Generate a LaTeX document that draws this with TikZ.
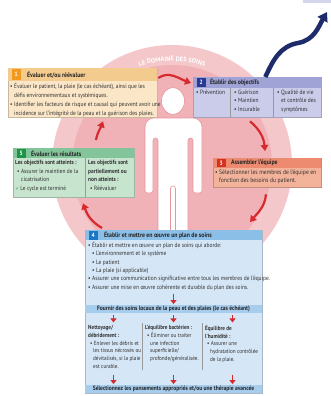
\documentclass[tikz,border=0pt]{standalone}
\usepackage{fontspec}
\setmainfont{PT Sans}[FakeStretch=0.88]
\newfontfamily\arcfont{PT Sans}
\newfontfamily\symfont{DejaVu Sans}
\usetikzlibrary{arrows.meta, positioning, calc, shadows, decorations.text}
\definecolor{pinkring}{HTML}{F4C7CA}
\definecolor{pinkdisc}{HTML}{F0B2B7}
\definecolor{pinkline}{HTML}{E6959C}
\definecolor{arrred}{HTML}{D62A2F}
\definecolor{navy}{HTML}{1E2C6B}
\definecolor{lavbar}{HTML}{D6D5EE}
\definecolor{txtgray}{HTML}{333333}
\definecolor{orbody}{HTML}{FBE6C8}
\definecolor{orhead}{HTML}{F3CB8E}
\definecolor{ornum}{HTML}{F29A1F}
\definecolor{lvbody}{HTML}{CACCEA}
\definecolor{lvhead}{HTML}{9FA3D6}
\definecolor{lvnum}{HTML}{283A93}
\definecolor{rdbody}{HTML}{F3B29A}
\definecolor{rdhead}{HTML}{EC8B70}
\definecolor{rdnum}{HTML}{D8301F}
\definecolor{gnbody}{HTML}{C7E4CE}
\definecolor{gnhead}{HTML}{84C49A}
\definecolor{gnnum}{HTML}{1E9546}
\definecolor{blbody}{HTML}{D5E6F6}
\definecolor{blhead}{HTML}{8CBFE8}
\definecolor{blnum}{HTML}{1C78C6}
\definecolor{blband}{HTML}{A6CCEE}
\newcommand\bodyfont{\fontsize{6.2}{8.3}\selectfont}

\begin{document}
\begin{tikzpicture}[x=1pt, y=1pt,
  every node/.style={font=\bodyfont, text=txtgray},
  stepbox/.style={rectangle, anchor=north west, inner sep=0, fill=#1, draw=#1!80!black, line width=0.3, drop shadow={shadow xshift=0.8pt, shadow yshift=-0.8pt, opacity=0.22}},
  headbar/.style 2 args={rectangle, anchor=north west, inner sep=0, fill=#1, minimum height=#2},
  numsq/.style={rectangle, inner sep=0, fill=#1, minimum width=9, minimum height=9, text=white, font=\bfseries\fontsize{6.2}{7}\selectfont},
  headtxt/.style={inner sep=0, font=\bfseries\fontsize{6.6}{7}\selectfont, text=black!85},
  bodytxt/.style={inner sep=0, anchor=north west, align=left},
  coltxt/.style={bodytxt, font=\fontsize{5.9}{7.8}\selectfont},
  bandbar/.style={rectangle, inner sep=0, fill=blband, minimum height=8.5, font=\bfseries\fontsize{6.3}{7}\selectfont, text=black!85},
  redarr/.style={draw=arrred, line width=2.2, -{Triangle[length=6pt, width=7.5pt]}},
  smallarr/.style={draw=arrred, line width=1.6, -{Triangle[length=4pt, width=6pt]}},
  sepline/.style={draw=black!40, line width=0.4},
  figure/.style={fill=white, draw=pinkline, line width=0.6},
]
\useasboundingbox (0,0) rectangle (331,-396);
\fill[white] (0,0) rectangle (331,-396);

% care domain disc with the patient
\coordinate (cc) at (172,-165);
\fill[pinkring] (cc) circle[radius=120];
\fill[pinkdisc] (cc) circle[radius=100];
\path[decorate, decoration={text along path, text align=center, text color=white,
  text={|\arcfont\bfseries\fontsize{6.4}{7}\selectfont|LE DOMAINE DES SOINS}}]
  ($(cc)+(150:104)$) arc[start angle=150, end angle=30, radius=104];
\draw[figure] (173,-101) ellipse[x radius=11.5, y radius=13.5];
\draw[figure] (145,-160) [rounded corners=9] -- (145,-118) -- (202,-118) -- (202,-160)
  [rounded corners=2.5] -- (202,-193) -- (193,-193) -- (193,-138) -- (188,-138) -- (188,-245)
  -- (158,-245) -- (158,-138) -- (153,-138) -- (153,-193) -- (145,-193) -- cycle;
\draw[figure, rounded corners=2.5] (170.5,-245) |- (175.5,-186) -- (175.5,-245);

% goal bar and navy arrow
\node[fill=lavbar, inner sep=0, minimum width=28, minimum height=3, anchor=north east] (goalbar) at (331,0) {};
\coordinate (bend) at (298,-43);
\coordinate (navytip) at (327,-12);

% 1 evaluate
\node[stepbox=orbody, minimum width=149, minimum height=49] (box1) at (8,-68) {};
\node[headbar={orhead}{13}, minimum width=149] (hd1) at (box1.north west) {};
\node[numsq=ornum, minimum height=11] (n1) [right=3.5pt of hd1.west] {1};
\node[headtxt] [right=6pt of n1] {Évaluer et/ou réévaluer};
\node[bodytxt, font=\fontsize{6.2}{9}\selectfont] (body1) at (10,-83) {%
• Évaluer le patient, la plaie (le cas échéant), ainsi que les\\
\hspace*{4pt}défis environnementaux et systémiques.\\
• Identifier les facteurs de risque et causal qui peuvent avoir une\\
\hspace*{4pt}incidence sur l'intégrité de la peau et la guérison des plaies.};

% 2 goals
\node[stepbox=lvbody, minimum width=128, minimum height=40] (box2) at (193,-77) {};
\node[headbar={lvhead}{11}, minimum width=128] (hd2) at (box2.north west) {};
\node[numsq=lvnum] (n2) [right=3.5pt of hd2.west] {2};
\node[headtxt] [right=4pt of n2] {Établir des objectifs};
\draw[sepline] (230,-88) -- (230,-117);
\draw[sepline] (273,-88) -- (273,-117);
\node[bodytxt] (g1) at (196,-90) {• Prévention};
\node[bodytxt] (g2) at (234,-90) {• Guérison\\• Maintien\\• Incurable};
\node[bodytxt] (g3) at (277,-90) {• Qualité de vie\\\hspace*{4pt}et contrôle des\\\hspace*{4pt}symptômes};

% 3 team
\node[stepbox=rdbody, minimum width=108, minimum height=29] (box3) at (213,-158) {};
\node[headbar={rdhead}{9.5}, minimum width=108] (hd3) at (box3.north west) {};
\node[numsq=rdnum, minimum height=8.5] (n3) [right=3.5pt of hd3.west] {3};
\node[headtxt] [right=5pt of n3] {Assembler l'équipe};
\node[bodytxt, font=\fontsize{6.4}{8.5}\selectfont] (body3) at (215,-169.5) {%
• Sélectionner les membres de l'équipe en\\
\hspace*{4pt}fonction des besoins du patient.};

% 5 results
\node[stepbox=gnbody, minimum width=121, minimum height=49] (box5) at (13,-148) {};
\node[headbar={gnhead}{10}, minimum width=121] (hd5) at (box5.north west) {};
\node[numsq=gnnum] (n5) [right=3.5pt of hd5.west] {5};
\node[headtxt] [right=5pt of n5] {Évaluer les résultats};
\draw[sepline] (85,-158) -- (85,-197);
\node[bodytxt, font=\fontsize{6.1}{8.7}\selectfont] (r1) at (15,-160) {%
\textbf{Les objectifs sont atteints :}\\
\hspace*{2pt}• Assurer le maintien de la\\
\hspace*{6pt}cicatrisation\\
{\symfont\color{gnnum}\fontsize{5}{5}\selectfont ✓}\,Le cycle est terminé};
\node[bodytxt, font=\fontsize{6.1}{8.7}\selectfont] (r2) at (88,-160) {%
\textbf{Les objectifs sont}\\
\textbf{partiellement ou}\\
\textbf{non atteints :}\\
\hspace*{2pt}• Réévaluer};

% 4 plan of care
\node[stepbox=blbody, minimum width=177, minimum height=163] (box4) at (85,-230) {};
\node[headbar={blhead}{10}, minimum width=177] (hd4) at (box4.north west) {};
\node[numsq=blnum] (n4) [right=3.5pt of hd4.west] {4};
\node[headtxt] [right=6pt of n4] {Établir et mettre en œuvre un plan de soins};
\node[bodytxt] (body4) at (88,-242) {%
• Établir et mettre en œuvre un plan de soins qui aborde:\\
\hspace*{4pt}• L'environnement et le système\\
\hspace*{4pt}• Le patient\\
\hspace*{4pt}• La plaie (si applicable)\\
• Assurer une communication significative entre tous les membres de l'équipe.\\
• Assurer une mise en œuvre cohérente et durable du plan des soins.};
\node[bandbar, minimum width=177] (fournir) at (173.5,-309) {Fournir des soins locaux de la peau et des plaies (le cas échéant)};
\node[coltxt] (col1) at (88,-325) {%
\textbf{Nettoyage/}\\
\textbf{débridement :}\\
\hspace*{2pt}• Enlever les débris et\\
\hspace*{5pt}les tissus nécrosés ou\\
\hspace*{5pt}dévitalisés, si la plaie\\
\hspace*{5pt}est curable.};
\node[coltxt] (col2) at (145,-325) {%
\textbf{L'équilibre bactérien :}\\
\hspace*{2pt}• Éliminer ou traiter\\
\hspace*{5pt}une infection\\
\hspace*{5pt}superficielle/\\
\hspace*{5pt}profonde/généralisée.};
\node[coltxt] (col3) at (205,-325) {%
\textbf{Équilibre de}\\
\textbf{l'humidité :}\\
\hspace*{2pt}• Assurer une\\
\hspace*{5pt}hydratation contrôlée\\
\hspace*{5pt}de la plaie.};
\draw[sepline] (142,-323) -- (142,-370);
\draw[sepline] (202,-323) -- (202,-370);
\node[bandbar, minimum width=177] (sel) at (173.5,-389) {Sélectionnez les pansements appropriés et/ou une thérapie avancée};

% cycle arrows
\draw[redarr] ([shift={(1,-10)}]box1.north east) to[out=35, in=160] ([shift={(-2,-6)}]box2.north west);
\draw[redarr] ([shift={(57,-4)}]box2.south west) to[out=-40, in=95] ([shift={(52,7)}]box3.north west);
\draw[redarr] ([shift={(53,-7)}]box3.south west) to[out=-95, in=50] ([shift={(165,8)}]box4.north west);
\draw[redarr] ([shift={(17,2)}]box4.north west) to[out=150, in=-70] ([shift={(70,-6)}]box5.south west);
\draw[redarr] ([shift={(83,8)}]box5.north west) to[out=80, in=-110] ([shift={(95,-4)}]box1.south west);
\draw[smallarr] ([yshift=-3]body4.south -| fournir.north) -- ([yshift=0.5]fournir.north);
\foreach \dx in {-60,0,59}{
  \draw[smallarr] ([shift={(\dx,-2)}]fournir.south) -- ([shift={(\dx,-9)}]fournir.south);
  \draw[smallarr] ([shift={(\dx,10)}]sel.north) -- ([shift={(\dx,0.5)}]sel.north);
}
\draw[navy, line width=4.5, -{Triangle[length=9pt, width=11pt]}] ([xshift=-56]box2.north east) to[out=65, in=190] (bend) to[out=10, in=240] (navytip);
\end{tikzpicture}
\end{document}
